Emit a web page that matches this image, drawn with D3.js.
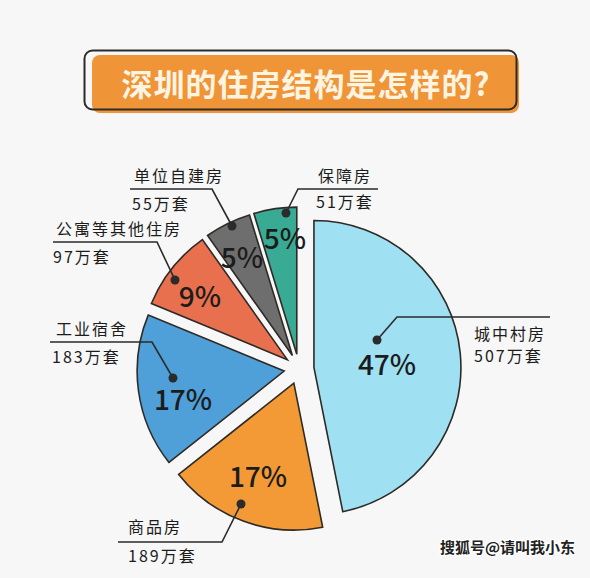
<!DOCTYPE html>
<html><head><meta charset="utf-8">
<script src="https://cdn.jsdelivr.net/npm/d3@7"></script>
<style>
html,body{margin:0;padding:0;background:#f7f7f7;}
svg{display:block;}
</style></head>
<body>
<script>
// ---- data ----
const title = "深圳的住房结构是怎样的?";
const categories = ["城中村房", "商品房", "工业宿舍", "公寓等其他住房", "单位自建房", "保障房"];
const values = [507, 189, 183, 97, 55, 51];
const unit = "万套";
const watermark = "搜狐号@请叫我小东";

// ---- styles / layout ----
const colors = ["#9fe1f2", "#f39a37", "#4f9fd9", "#e9704f", "#6e6e6e", "#39aa93"];
const W = 590, H = 578;
const cx = 299, cy = 369, R = 147, explode = 15;
const layout = [
  {pct:[387,365], dot:[377,340], elbow:[397,317], end:[550,317], name:[474,340], num:[474,362]},
  {pct:[258,477], dot:[241,504], elbow:[222,542], end:[118,542], name:[128,533], num:[128,562]},
  {pct:[183,400], dot:[173,378], elbow:[152,342], end:[50,342], name:[56,335], num:[52,363]},
  {pct:[200,297], dot:[175,280], elbow:[157,242], end:[53,242], name:[56,235], num:[53,263]},
  {pct:[242,258], dot:[232,226], elbow:[212,189], end:[130,189], name:[134,182], num:[132,210]},
  {pct:[285,239], dot:[286,213], elbow:[298,189], end:[378,189], name:[318,182], num:[316,208]}
];

const svg = d3.select("body").append("svg").attr("width", W).attr("height", H);
svg.append("rect").attr("width", W).attr("height", H).attr("fill", "#f7f7f7");

// title box
svg.append("rect").attr("x", 92).attr("y", 55).attr("width", 427).attr("height", 58)
  .attr("rx", 8).attr("fill", "#f09438");
svg.append("rect").attr("x", 84.5).attr("y", 50.5).attr("width", 432).attr("height", 59)
  .attr("rx", 8).attr("fill", "none").attr("stroke", "#2b2b2b").attr("stroke-width", 2);
svg.append("text").attr("x", 306).attr("y", 96).attr("text-anchor", "middle")
  .attr("font-family", "'Noto Sans CJK SC', sans-serif").attr("font-weight", 600)
  .attr("font-size", 31).attr("fill", "#fdf4e2").attr("letter-spacing", 1).text(title);

// pie
const total = d3.sum(values);
const pie = d3.pie().sort(null).value(d => d)(values);
const arc = d3.arc().innerRadius(0).outerRadius(R);
const g = svg.append("g").attr("transform", `translate(${cx},${cy})`);
g.selectAll("path").data(pie).join("path")
  .attr("transform", d => {
    const a = (d.startAngle + d.endAngle) / 2;
    return `translate(${explode * Math.sin(a)},${-explode * Math.cos(a)})`;
  })
  .attr("d", arc)
  .attr("fill", (d, i) => colors[i])
  .attr("stroke", "#2e2a26").attr("stroke-width", 1.6).attr("stroke-linejoin", "miter");

const font = "'Noto Sans CJK SC', sans-serif";
// percent labels
svg.selectAll("text.pct").data(values).join("text").attr("class", "pct")
  .attr("x", (d, i) => layout[i].pct[0]).attr("y", (d, i) => layout[i].pct[1] + 10)
  .attr("text-anchor", "middle").attr("font-family", font).attr("font-weight", 500)
  .attr("font-size", 28).attr("fill", "#1c1c1c")
  .text(d => Math.round(d / total * 100) + "%");

// leaders
const lines = svg.append("g");
layout.forEach((l, i) => {
  lines.append("path")
    .attr("d", `M${l.dot[0]},${l.dot[1]}L${l.elbow[0]},${l.elbow[1]}L${l.end[0]},${l.end[1]}`)
    .attr("fill", "none").attr("stroke", "#2b2b2b").attr("stroke-width", 1.6);
  lines.append("circle").attr("cx", l.dot[0]).attr("cy", l.dot[1]).attr("r", 4.5).attr("fill", "#2b2b2b");
  lines.append("text").attr("x", l.name[0]).attr("y", l.name[1])
    .attr("font-family", font).attr("font-size", 16).attr("font-weight", 400)
    .attr("fill", "#1c1c1c").attr("letter-spacing", 2).text(categories[i]);
  lines.append("text").attr("x", l.num[0]).attr("y", l.num[1])
    .attr("font-family", font).attr("font-size", 16).attr("font-weight", 400)
    .attr("fill", "#1c1c1c").attr("letter-spacing", 2).text(values[i] + unit);
});

// watermark
svg.append("text").attr("x", 575).attr("y", 553).attr("text-anchor", "end")
  .attr("font-family", font).attr("font-size", 15).attr("font-weight", 700)
  .attr("fill", "#222").attr("stroke", "#fff").attr("stroke-width", 2.5)
  .attr("paint-order", "stroke").text(watermark);
</script>
</body></html>
